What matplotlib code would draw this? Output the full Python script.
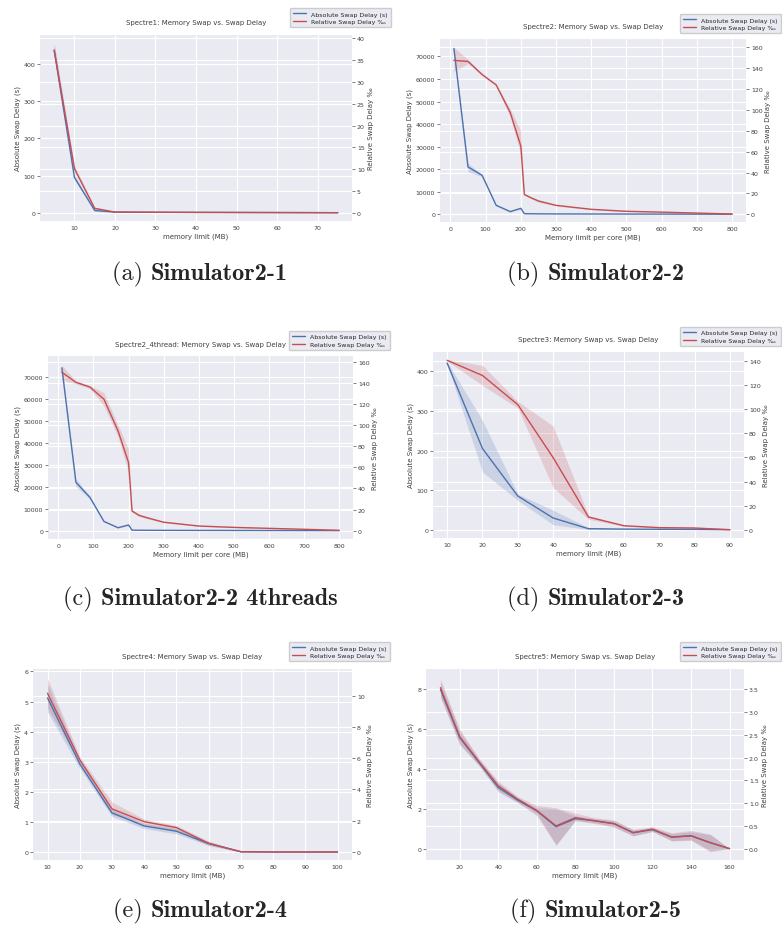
import matplotlib
matplotlib.use("Agg")
import matplotlib.pyplot as plt
import seaborn as sns
from matplotlib.offsetbox import TextArea, HPacker, AnnotationBbox

sns.set_theme(style="darkgrid")
plt.rcParams['font.family'] = ['DejaVu Sans']

BLUE = "#4c72b0"
RED = "#c44e52"
W, H = 782, 928

# ---- (a) Spectre1 ----
a_mem = [5, 10, 15, 20, 25, 30, 35, 40, 45, 50, 55, 60, 65, 70, 75]
a_abs = [438, 95, 6, 1.5, 1.2, 1.0, 0.8, 0.7, 0.6, 0.5, 0.4, 0.3, 0.2, 0.1, 0.0]
a_abs_lo = [425, 88, 3, 1.0, 0.9, 0.7, 0.5, 0.4, 0.3, 0.2, 0.1, 0.0, 0.0, 0.0, 0.0]
a_abs_hi = [456, 102, 9, 2.0, 1.5, 1.3, 1.1, 1.0, 0.9, 0.8, 0.7, 0.6, 0.4, 0.2, 0.0]
a_rel = [37.3, 10.1, 1.0, 0.15, 0.13, 0.11, 0.10, 0.08, 0.07, 0.06, 0.05, 0.04, 0.03, 0.02, 0.0]
a_rel_lo = [36.0, 9.4, 0.7, 0.10, 0.09, 0.08, 0.07, 0.06, 0.05, 0.04, 0.03, 0.02, 0.01, 0.0, 0.0]
a_rel_hi = [38.9, 10.9, 1.3, 0.20, 0.17, 0.15, 0.13, 0.11, 0.09, 0.08, 0.07, 0.06, 0.05, 0.04, 0.0]

# ---- (b) Spectre2 ----
b_mem = [10, 50, 90, 130, 170, 200, 210, 230, 250, 300, 400, 500, 600, 700, 800]
b_abs = [73500, 21000, 17300, 4000, 1200, 2650, 300, 250, 220, 180, 150, 120, 100, 80, 50]
b_abs_lo = [73000, 18800, 16800, 3800, 1000, 2400, 200, 180, 160, 130, 110, 90, 70, 50, 30]
b_abs_hi = [74000, 22500, 17800, 4200, 1400, 2900, 400, 320, 280, 230, 190, 150, 130, 110, 70]
b_rel = [147.5, 146.5, 134, 124, 97.5, 65.5, 19, 15.7, 12.8, 8.6, 4.8, 2.9, 2.1, 1.2, 0.3]
b_rel_lo = [137, 144.5, 133, 123, 93, 57.5, 18, 14.8, 11.5, 8.0, 4.4, 2.6, 1.8, 1.0, 0.1]
b_rel_hi = [160, 148.5, 135, 125, 101, 80, 20, 16.6, 14.0, 9.2, 5.2, 3.2, 2.4, 1.4, 0.5]

# ---- (c) Spectre2_4thread ----
c_mem = [10, 50, 90, 130, 170, 200, 210, 230, 250, 300, 400, 500, 600, 700, 800]
c_abs = [74000, 22000, 15100, 4200, 1350, 2600, 250, 200, 180, 150, 120, 100, 80, 60, 40]
c_abs_lo = [72500, 20000, 14500, 4000, 1150, 2350, 150, 130, 120, 100, 80, 60, 50, 30, 20]
c_abs_hi = [75200, 23500, 15700, 4400, 1550, 2850, 350, 280, 250, 200, 160, 140, 110, 90, 60]
c_rel = [150, 140.5, 136, 124.4, 94.5, 64.6, 18.6, 14.5, 12.5, 8.0, 4.4, 3.1, 2.2, 1.3, 0.3]
c_rel_lo = [143, 139, 134.5, 118, 89, 55, 17.5, 13.5, 11.5, 7.5, 4.0, 2.8, 1.9, 1.0, 0.1]
c_rel_hi = [156.5, 142, 137.5, 130.5, 100, 77, 19.7, 15.8, 13.5, 8.6, 4.9, 3.4, 2.5, 1.6, 0.5]

# ---- (d) Spectre3 ----
d_mem = [10, 20, 30, 40, 50, 60, 70, 80, 90]
d_abs = [421, 205, 85, 29.5, 2.5, 1.5, 1.0, 0.8, 0.0]
d_abs_lo = [418, 146, 74, 12.6, 0.5, 0.8, 0.5, 0.4, 0.0]
d_abs_hi = [424, 276, 90, 49, 5.0, 2.2, 1.5, 1.2, 0.0]
d_rel = [140.6, 128, 103.8, 59.8, 10.5, 3.3, 1.7, 1.4, 0.0]
d_rel_lo = [140, 119.8, 101, 34.9, 8.6, 2.8, 1.3, 1.1, 0.0]
d_rel_hi = [141.2, 136.4, 106.5, 86, 11.9, 3.8, 2.1, 1.7, 0.0]

# ---- (e) Spectre4 ----
e_mem = [10, 20, 30, 40, 50, 60, 70, 80, 90, 100]
e_abs = [5.12, 2.93, 1.30, 0.865, 0.69, 0.28, 0.01, 0.0, 0.0, 0.0]
e_abs_lo = [4.65, 2.78, 1.18, 0.78, 0.60, 0.22, 0.0, 0.0, 0.0, 0.0]
e_abs_hi = [5.58, 3.08, 1.42, 0.95, 0.78, 0.34, 0.02, 0.0, 0.0, 0.0]
e_rel = [10.15, 5.9, 2.76, 1.94, 1.56, 0.56, 0.02, 0.0, 0.0, 0.0]
e_rel_lo = [9.2, 5.7, 2.4, 1.75, 1.35, 0.42, 0.0, 0.0, 0.0, 0.0]
e_rel_hi = [11.1, 6.1, 3.2, 2.1, 1.7, 0.70, 0.04, 0.0, 0.0, 0.0]

# ---- (f) Spectre5 ----
f_mem = [10, 20, 30, 40, 50, 60, 70, 80, 90, 100, 110, 120, 130, 140, 150, 160]
f_abs = [7.97, 5.56, 4.32, 3.06, 2.43, 1.89, 1.10, 1.50, 1.40, 1.25, 0.80, 0.95, 0.58, 0.65, 0.30, 0.0]
f_abs_lo = [7.6, 5.2, 4.15, 2.85, 2.3, 1.75, 0.2, 1.4, 1.3, 1.1, 0.65, 0.85, 0.4, 0.45, -0.1, 0.0]
f_abs_hi = [8.35, 5.9, 4.5, 3.3, 2.55, 2.05, 2.0, 1.65, 1.5, 1.4, 0.95, 1.05, 0.75, 0.85, 0.7, 0.0]
f_rel = [3.54, 2.46, 1.91, 1.38, 1.09, 0.84, 0.50, 0.68, 0.61, 0.55, 0.35, 0.43, 0.25, 0.28, 0.13, 0.0]
f_rel_lo = [3.32, 2.30, 1.83, 1.27, 1.02, 0.72, 0.07, 0.62, 0.55, 0.47, 0.28, 0.38, 0.17, 0.18, -0.07, 0.0]
f_rel_hi = [3.73, 2.62, 1.98, 1.48, 1.15, 0.95, 0.90, 0.78, 0.68, 0.63, 0.42, 0.48, 0.35, 0.40, 0.32, 0.0]

fig = plt.figure(figsize=(W / 100, H / 100), dpi=100)
fig.patch.set_facecolor("white")


def panel(box, x, ab, ab_lo, ab_hi, rel, rel_lo, rel_hi, title, xlabel,
          xlim, ylim_l, ylim_r, xticks, lticks, rticks, leg_corner, cap, cap_xy):
    l, t, r, b = box
    ax = fig.add_axes([l / W, 1 - b / H, (r - l) / W, (b - t) / H])
    ax2 = ax.twinx()
    # twin axis goes underneath so both lines sit on top of every grid line
    ax.set_zorder(ax2.get_zorder() + 1)
    ax.patch.set_visible(False)
    ax2.patch.set_visible(True)
    ax2.patch.set_facecolor("#eaeaf2")

    ax.fill_between(x, ab_lo, ab_hi, color=BLUE, alpha=0.2, lw=0)
    l1, = ax.plot(x, ab, color=BLUE, lw=1.0)
    ax.fill_between(x, rel_lo, rel_hi, color=RED, alpha=0.2, lw=0, transform=ax2.transData)
    l2, = ax.plot(x, rel, color=RED, lw=1.0, transform=ax2.transData)

    ax.set_xlim(xlim)
    ax.set_xticks(xticks)
    ax.set_ylim(ylim_l)
    ax.set_yticks(lticks)
    ax2.set_ylim(ylim_r)
    ax2.set_yticks(rticks)
    ax.grid(True, color="white", lw=0.8)
    ax2.grid(False)
    ax2.grid(True, axis="y", color="white", lw=0.8)
    for a in (ax, ax2):
        for s in a.spines.values():
            s.set_visible(False)
    ax.tick_params(axis="x", length=0, pad=3, labelsize=4.5, labelcolor=".25")
    ax.tick_params(axis="y", left=True, length=2, width=0.5, color=".3", pad=1.5,
                   labelsize=4.5, labelcolor=".25")
    ax2.tick_params(axis="y", right=True, length=2, width=0.5, color=".3", pad=1.5,
                    labelsize=4.5, labelcolor=".25")
    ax.set_xlabel(xlabel, fontsize=5, color=".25", labelpad=1.5)
    ax.set_ylabel("Absolute Swap Delay (s)", fontsize=5, color=".25", labelpad=2)
    ax2.set_ylabel("Relative Swap Delay \u2030", fontsize=5, color=".25", labelpad=2)
    ax.set_title(title, fontsize=5, color=".25", pad=8)

    fig.legend([l1, l2], ["Absolute Swap Delay (s)", "Relative Swap Delay \u2030"],
               loc="upper right", bbox_to_anchor=(leg_corner[0] / W, 1 - leg_corner[1] / H),
               fontsize=4.5, frameon=True, borderpad=0.5, labelspacing=0.3,
               handlelength=2.2, handletextpad=0.8, borderaxespad=0,
               facecolor="#eaeaf2", edgecolor="0.8", framealpha=1, fancybox=True)

    letter, name = cap
    box_txt = HPacker(children=[
        TextArea(letter + " ", textprops=dict(family="cmr10", size=17.5)),
        TextArea(name, textprops=dict(family="cmb10", size=17.5)),
    ], align="baseline", pad=0, sep=0)
    fig.add_artist(AnnotationBbox(box_txt, (cap_xy[0] / W, 1 - cap_xy[1] / H),
                                  xycoords="figure fraction", frameon=False,
                                  box_alignment=(0.5, 0.5)))


panel((40, 36, 352, 222), a_mem, a_abs, a_abs_lo, a_abs_hi, a_rel, a_rel_lo, a_rel_hi,
      "Spectre1: Memory Swap vs. Swap Delay", "memory limit (MB)",
      (1.5, 78.5), (-22.4, 478.7), (-1.9, 40.76),
      range(10, 71, 10), range(0, 401, 100), range(0, 41, 5),
      (391, 9), ("(a)", "Simulator2-1"), (200, 274))

panel((440, 40, 746, 223), b_mem, b_abs, b_abs_lo, b_abs_hi, b_rel, b_rel_lo, b_rel_hi,
      "Spectre2: Memory Swap vs. Swap Delay", "Memory limit per core (MB)",
      (-29.5, 839.5), (-3400, 77700), (-7.36, 168),
      range(0, 801, 100), range(0, 70001, 10000), range(0, 161, 20),
      (781, 15), ("(b)", "Simulator2-2"), (596, 274))

panel((48, 357, 353, 540), c_mem, c_abs, c_abs_lo, c_abs_hi, c_rel, c_rel_lo, c_rel_hi,
      "Spectre2_4thread: Memory Swap vs. Swap Delay", "Memory limit per core (MB)",
      (-29.5, 839.5), (-3780, 79370), (-7.9, 165.4),
      range(0, 801, 100), range(0, 70001, 10000), range(0, 161, 20),
      (390, 332), ("(c)", "Simulator2-2 4threads"), (200, 599))

panel((433, 353, 744, 539), d_mem, d_abs, d_abs_lo, d_abs_hi, d_rel, d_rel_lo, d_rel_hi,
      "Spectre3: Memory Swap vs. Swap Delay", "memory limit (MB)",
      (6, 94), (-21, 448.8), (-6.9, 147.5),
      range(10, 91, 10), range(0, 401, 100), range(0, 141, 20),
      (781, 328), ("(d)", "Simulator2-3"), (596, 599))

panel((33, 670, 352, 861), e_mem, e_abs, e_abs_lo, e_abs_hi, e_rel, e_rel_lo, e_rel_hi,
      "Spectre4: Memory Swap vs. Swap Delay", "memory limit (MB)",
      (5.5, 104.5), (-0.266, 6.08), (-0.51, 11.7),
      range(10, 101, 10), range(0, 7), range(0, 11, 2),
      (390, 643), ("(e)", "Simulator2-4"), (200, 911))

panel((426, 670, 744, 861), f_mem, f_abs, f_abs_lo, f_abs_hi, f_rel, f_rel_lo, f_rel_hi,
      "Spectre5: Memory Swap vs. Swap Delay", "memory limit (MB)",
      (2.5, 167.5), (-0.57, 9.0), (-0.25, 3.95),
      range(20, 161, 20), range(0, 9, 2), [0.0, 0.5, 1.0, 1.5, 2.0, 2.5, 3.0, 3.5],
      (781, 643), ("(f)", "Simulator2-5"), (596, 911))

fig.savefig("out.png", dpi=100, facecolor="white")
